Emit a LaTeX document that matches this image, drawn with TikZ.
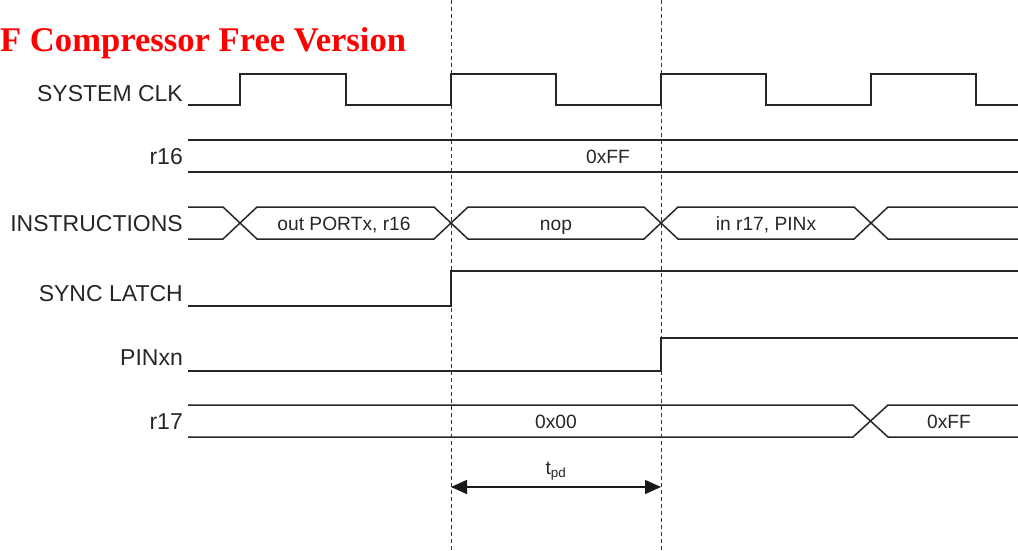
\documentclass[tikz,border=0pt]{standalone}
\usepackage{fontspec}
\setmainfont{Liberation Sans}
\newfontfamily\titlefont{Liberation Serif}
\usetikzlibrary{arrows.meta}
\begin{document}
\begin{tikzpicture}[x=1pt,y=-1pt,
  sig/.style={line width=1.5pt, draw=black!85, line join=miter},
  guide/.style={line width=0.8pt, draw=black!80, dash pattern=on 4pt off 3pt},
  lbl/.style={anchor=base east, inner sep=0pt, font=\fontsize{23}{26}\selectfont, text=black!85},
  val/.style={anchor=base, inner sep=0pt, font=\fontsize{19.2}{22}\selectfont, text=black!85},
  dimarrow/.style={line width=1.5pt, draw=black!90, {Triangle[length=16pt,width=14pt]}-{Triangle[length=16pt,width=14pt]}}
]
\useasboundingbox (0,0) rectangle (1018,551);

% title
\node[anchor=base west, inner sep=0pt, text=red, font=\titlefont\bfseries\fontsize{34.6}{40}\selectfont] (title) at (0,52) {F Compressor Free Version};

% guide lines
\coordinate (g1t) at (451,0); \coordinate (g1b) at (451,551);
\coordinate (g2t) at (661,0); \coordinate (g2b) at (661,551);
\draw[guide] (g1t) -- (g1b);
\draw[guide] (g2t) -- (g2b);

% labels
\node[lbl] (lclk) at (183,101) {SYSTEM CLK};
\node[lbl] (lr16) at (183,164) {r16};
\node[lbl] (lins) at (183,231) {INSTRUCTIONS};
\node[lbl] (lsync) at (183,301) {SYNC LATCH};
\node[lbl] (lpin) at (183,365) {PINxn};
\node[lbl] (lr17) at (183,429) {r17};

% system clock
\draw[sig] (188,105) -- (240,105) -- (240,74) -- (346,74) -- (346,105) -- (451,105) -- (451,74)
  -- (556,74) -- (556,105) -- (661,105) -- (661,74) -- (766,74) -- (766,105) -- (871,105)
  -- (871,74) -- (976,74) -- (976,105) -- (1018,105);

% r16
\draw[sig] (188,140) -- (1018,140);
\draw[sig] (188,172) -- (1018,172);
\node[val] (v16) at (608,163) {0xFF};

% instructions
\draw[sig] (188,207) -- (223,207) -- (257,239) -- (434,239) -- (468,207) -- (644,207) -- (678,239) -- (854,239) -- (888,207) -- (1018,207);
\draw[sig] (188,239) -- (223,239) -- (257,207) -- (434,207) -- (468,239) -- (644,239) -- (678,207) -- (854,207) -- (888,239) -- (1018,239);
\node[val] (i1) at (344,230) {out PORTx, r16};
\node[val] (i2) at (556,230) {nop};
\node[val] (i3) at (766,230) {in r17, PINx};

% sync latch
\draw[sig] (188,306) -- (451,306) -- (451,271) -- (1018,271);

% PINxn
\draw[sig] (188,371) -- (661,371) -- (661,338) -- (1018,338);

% r17
\draw[sig] (188,405) -- (853,405) -- (888,437) -- (1018,437);
\draw[sig] (188,437) -- (853,437) -- (888,405) -- (1018,405);
\node[val] (v17a) at (556,428) {0x00};
\node[val] (v17b) at (949,428) {0xFF};

% t_pd
\coordinate (ta) at (451,487);
\coordinate (tb) at (661,487);
\draw[dimarrow] (ta) -- (tb);
\node[val] (tpd) at (556,474) {t\textsubscript{pd}};
\end{tikzpicture}
\end{document}
